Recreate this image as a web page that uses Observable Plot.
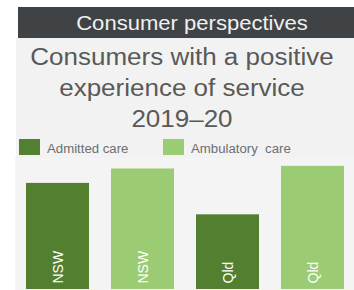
<!DOCTYPE html>
<html>
<head>
<meta charset="utf-8">
<script src="https://cdn.jsdelivr.net/npm/d3@7"></script>
<script src="https://cdn.jsdelivr.net/npm/@observablehq/plot@0.6"></script>
<style>
  html, body { margin: 0; padding: 0; background: #ffffff; }
  body { width: 354px; height: 290px; position: relative; overflow: hidden; font-family: "Liberation Sans", Arial, sans-serif; }
  #panel { position: absolute; left: 16px; top: 38px; width: 338px; height: 252px; background: #f2f2f2; }
  #header { position: absolute; left: 18px; top: 7px; width: 336px; height: 31px; background: #404346; }
  #headerText { position: absolute; left: 0; top: 7px; width: 384px; height: 31px; color: #f0f0f0;
            font-size: 21px; line-height: 31px; text-align: center; transform: scaleX(1.05); transform-origin: 192px 0; }
  #title { position: absolute; left: 0; top: 41.5px; width: 364px; text-align: center; color: #595959;
           font-size: 23px; line-height: 31px; transform: scaleX(1.13); transform-origin: 182px 0; }
  #legend { position: absolute; left: 19px; top: 139px; height: 16px; }
  .item { position: absolute; top: 0; display: flex; align-items: center; white-space: pre; font-size: 12px; color: #6e6e6e; }
  .sw { width: 21px; height: 16px; margin-right: 7px; }
  .lab { display: inline-block; transform: scaleX(1.1); transform-origin: 0 0; position: relative; top: 2px; }
  #chart { position: absolute; left: 15px; top: 158px; }
</style>
</head>
<body>
<div id="panel"></div>
<div id="header"></div>
<div id="headerText">Consumer perspectives</div>
<div id="title">Consumers with a positive<br>experience of service<br>2019–20</div>
<div id="legend"></div>
<div id="chart"></div>
<script>
const states = ["NSW", "Qld"];
const series = ["Admitted care", "Ambulatory  care"];
const colors = ["#527f30", "#9bcb73"];
const admitted = [81, 57];
const ambulatory = [92, 94];

const seriesValues = [admitted, ambulatory];
const data = [];
states.forEach((s, i) => {
  series.forEach((t, j) => {
    data.push({ state: s, type: t, value: seriesValues[j][i], key: s + "|" + t });
  });
});

// legend
const legend = document.getElementById("legend");
const legendX = [0, 144];
series.forEach((t, j) => {
  const item = document.createElement("div");
  item.className = "item";
  item.style.left = legendX[j] + "px";
  const sw = document.createElement("div");
  sw.className = "sw";
  sw.style.background = colors[j];
  item.appendChild(sw);
  const lab = document.createElement("span");
  lab.className = "lab";
  lab.textContent = t;
  item.appendChild(lab);
  legend.appendChild(item);
});

const chart = Plot.plot({
  width: 339,
  height: 132,
  marginLeft: 2,
  marginRight: 1,
  marginTop: 0,
  marginBottom: 1,
  style: { background: "#f4f4f4", fontFamily: "Liberation Sans, Arial, sans-serif" },
  x: { domain: data.map(d => d.key), paddingInner: 0.26, paddingOuter: 0.1, axis: null },
  y: { domain: [0, 100], axis: null },
  color: { domain: series, range: colors },
  marks: [
    Plot.barY(data, { x: "key", y: "value", fill: "type" }),
    Plot.text(data, { x: "key", y: 0, text: "state", rotate: -90, textAnchor: "start", dy: -6, dx: 0.5,
                      fill: "white", fontSize: 14 })
  ]
});
document.getElementById("chart").appendChild(chart);
</script>
</body>
</html>
